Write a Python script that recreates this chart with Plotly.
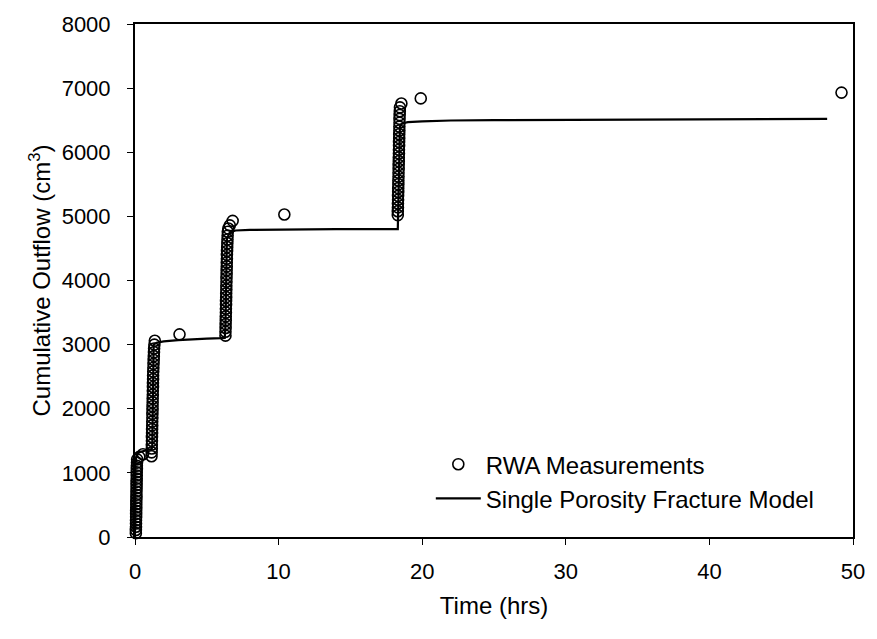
import plotly.graph_objects as go

# RWA measurements: cumulative outflow (cm3) vs time (hrs), one list per step
step1_t = [0.06, 0.06, 0.07, 0.07, 0.07, 0.08, 0.08, 0.08, 0.09, 0.09, 0.09, 0.10, 0.10,
           0.10, 0.11, 0.11, 0.11, 0.12, 0.12, 0.12, 0.13, 0.13, 0.14, 0.15, 0.30, 0.55]
step1_v = [60, 110, 160, 210, 260, 310, 360, 410, 460, 510, 560, 610, 660,
           710, 760, 810, 860, 910, 960, 1010, 1060, 1110, 1160, 1210, 1250, 1290]

step2_t = [1.15, 1.16, 1.17, 1.17, 1.18, 1.18, 1.19, 1.19, 1.20, 1.20, 1.21, 1.21, 1.22,
           1.22, 1.23, 1.23, 1.24, 1.24, 1.25, 1.25, 1.26, 1.26, 1.27, 1.28, 1.29, 1.30,
           1.31, 1.32, 1.33, 1.35, 1.38]
step2_v = [1260, 1320, 1380, 1440, 1500, 1560, 1620, 1680, 1740, 1800, 1860, 1920, 1980,
           2040, 2100, 2160, 2220, 2280, 2340, 2400, 2460, 2520, 2580, 2640, 2700, 2760,
           2820, 2880, 2940, 3000, 3060]

step3_t = [6.30, 6.30, 6.31, 6.31, 6.32, 6.32, 6.33, 6.33, 6.34, 6.34, 6.35, 6.35, 6.36,
           6.36, 6.37, 6.37, 6.38, 6.38, 6.39, 6.39, 6.40, 6.40, 6.41, 6.42, 6.43, 6.44,
           6.45, 6.46, 6.50, 6.60, 6.80]
step3_v = [3140, 3200, 3260, 3320, 3380, 3440, 3500, 3560, 3620, 3680, 3740, 3800, 3860,
           3920, 3980, 4040, 4100, 4160, 4220, 4280, 4340, 4400, 4460, 4520, 4580, 4640,
           4700, 4760, 4810, 4860, 4930]

step4_t = [18.30, 18.30, 18.31, 18.31, 18.32, 18.32, 18.33, 18.33, 18.34, 18.34, 18.35,
           18.35, 18.36, 18.36, 18.37, 18.37, 18.38, 18.38, 18.39, 18.39, 18.40, 18.40,
           18.41, 18.41, 18.42, 18.42, 18.43, 18.44, 18.45, 18.55]
step4_v = [5020, 5080, 5140, 5200, 5260, 5320, 5380, 5440, 5500, 5560, 5620,
           5680, 5740, 5800, 5860, 5920, 5980, 6040, 6100, 6160, 6220, 6280,
           6340, 6400, 6460, 6520, 6580, 6640, 6700, 6760]

# late-time readings between steps
late_t = [3.1, 10.4, 19.9, 49.2]
late_v = [3160, 5030, 6840, 6930]

# Single porosity fracture model
model_t = [0, 0.02, 0.1, 0.2, 0.4, 0.7, 1.0, 1.15, 1.2, 1.25, 1.3, 1.5, 2, 3, 4, 5, 6,
           6.25, 6.3, 6.4, 6.6, 7, 8, 10, 14, 18.3, 18.35, 18.45, 18.6, 19, 20, 22, 25,
           30, 35, 40, 45, 48.2]
model_v = [0, 1100, 1280, 1310, 1330, 1350, 1365, 1370, 1400, 2900, 3000, 3030, 3050,
           3070, 3085, 3095, 3100, 3105, 3300, 4650, 4750, 4780, 4790, 4795, 4800, 4800,
           5300, 6400, 6450, 6470, 6480, 6495, 6500, 6505, 6510, 6513, 6517, 6520]

x_ticks = [0, 10, 20, 30, 40, 50]
y_ticks = [0, 1000, 2000, 3000, 4000, 5000, 6000, 7000, 8000]

meas_t = step1_t + step2_t + step3_t + step4_t + late_t
meas_v = step1_v + step2_v + step3_v + step4_v + late_v

FONT = "Liberation Sans, Arial, sans-serif"

fig = go.Figure()
fig.add_trace(go.Scatter(
    x=meas_t, y=meas_v, mode="markers", name="RWA Measurements",
    marker=dict(symbol="circle-open", size=11, color="black", line=dict(width=1.6)),
    cliponaxis=False,
))
fig.add_trace(go.Scatter(
    x=model_t, y=model_v, mode="lines", name="Single Porosity Fracture Model",
    line=dict(color="black", width=2.2),
))

axis_common = dict(
    showgrid=False, zeroline=False, showline=True, linecolor="black", linewidth=2,
    mirror=True, ticks="outside", ticklen=6, tickwidth=1, tickcolor="black",
    tickfont=dict(family=FONT, size=22, color="black"),
)

fig.update_layout(
    width=877, height=639,
    margin=dict(l=135, r=18, t=18, b=102),
    paper_bgcolor="white", plot_bgcolor="white",
    font=dict(family=FONT, color="black"),
    xaxis=dict(range=[0, 50], tickvals=x_ticks, ticklabelstandoff=8,
               title=dict(text="Time (hrs)", font=dict(family=FONT, size=24), standoff=14),
               **axis_common),
    yaxis=dict(range=[0, 8000], tickvals=y_ticks, ticklabelstandoff=12,
               title=dict(text="Cumulative Outflow (cm<sup>3</sup>)",
                          font=dict(family=FONT, size=24), standoff=4),
               **axis_common),
    legend=dict(x=0.412, y=0.185, xanchor="left", yanchor="top",
                bgcolor="rgba(0,0,0,0)", borderwidth=0,
                font=dict(family=FONT, size=24, color="black"),
                tracegroupgap=0, itemwidth=45),
    showlegend=True,
)

fig.write_html("out.html")
